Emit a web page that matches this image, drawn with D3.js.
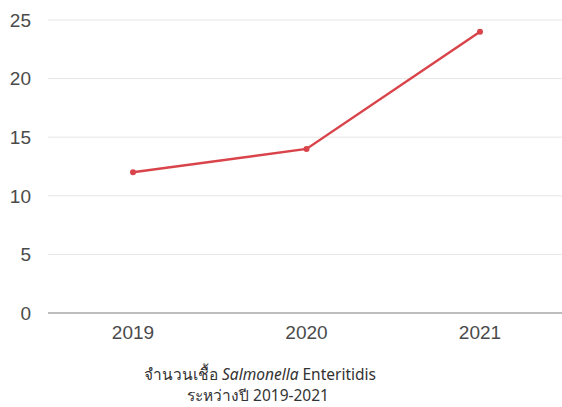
<!DOCTYPE html>
<html><head><meta charset="utf-8">
<script src="https://cdn.jsdelivr.net/npm/d3@7"></script>
<style>body{margin:0;background:#fff}svg{display:block}</style>
</head><body>
<script>
const years = ["2019", "2020", "2021"];
const counts = [12, 14, 24];
const yTicks = [0, 5, 10, 15, 20, 25];
const captionLine1 = ["จำนวนเชื้อ ", "Salmonella", " Enteritidis"];
const captionLine2 = "ระหว่างปี 2019-2021";

const W = 562, H = 407;
const svg = d3.select("body").append("svg").attr("width", W).attr("height", H);
const x = d3.scalePoint().domain(years).range([133, 480]);
const y = d3.scaleLinear().domain([0, 25]).range([313, 20]);
const font = "'Liberation Sans', Arial, sans-serif";

// gridlines
svg.append("g").selectAll("line").data(yTicks.filter(d => d > 0)).join("line")
  .attr("x1", 48).attr("x2", W).attr("y1", d => y(d)).attr("y2", d => y(d))
  .attr("stroke", "#e6e6e6").attr("stroke-width", 1);
svg.append("line").attr("x1", 48).attr("x2", W).attr("y1", y(0)).attr("y2", y(0))
  .attr("stroke", "#bdbdbd").attr("stroke-width", 2);

// y labels
svg.append("g").selectAll("text").data(yTicks).join("text")
  .attr("x", 31).attr("y", d => y(d)).attr("dy", "0.36em")
  .attr("text-anchor", "end").attr("font-family", font).attr("font-size", 19)
  .attr("fill", "#4a4a4a").text(d => d);

// x labels
svg.append("g").selectAll("text").data(years).join("text")
  .attr("x", d => x(d)).attr("y", 339)
  .attr("text-anchor", "middle").attr("font-family", font).attr("font-size", 19)
  .attr("fill", "#4a4a4a").text(d => d);

// line
const data = years.map((d, i) => ({year: d, v: counts[i]}));
svg.append("path").datum(data)
  .attr("d", d3.line().x(d => x(d.year)).y(d => y(d.v)))
  .attr("fill", "none").attr("stroke", "#d9444b").attr("stroke-width", 2.5);
svg.append("g").selectAll("circle").data(data).join("circle")
  .attr("cx", d => x(d.year)).attr("cy", d => y(d.v)).attr("r", 3)
  .attr("fill", "#d9444b");

// caption
const capFont = "'Noto Sans', sans-serif";
const cap = svg.append("text").attr("x", 260).attr("y", 380)
  .attr("text-anchor", "middle").attr("font-family", capFont)
  .attr("font-size", 15.5).attr("fill", "#333");
captionLine1.forEach((t, i) => cap.append("tspan").text(t).attr("font-style", i === 1 ? "italic" : "normal"));
svg.append("text").attr("x", 258).attr("y", 401)
  .attr("text-anchor", "middle").attr("font-family", capFont)
  .attr("font-size", 15.5).attr("fill", "#333").text(captionLine2);
</script>
</body></html>
